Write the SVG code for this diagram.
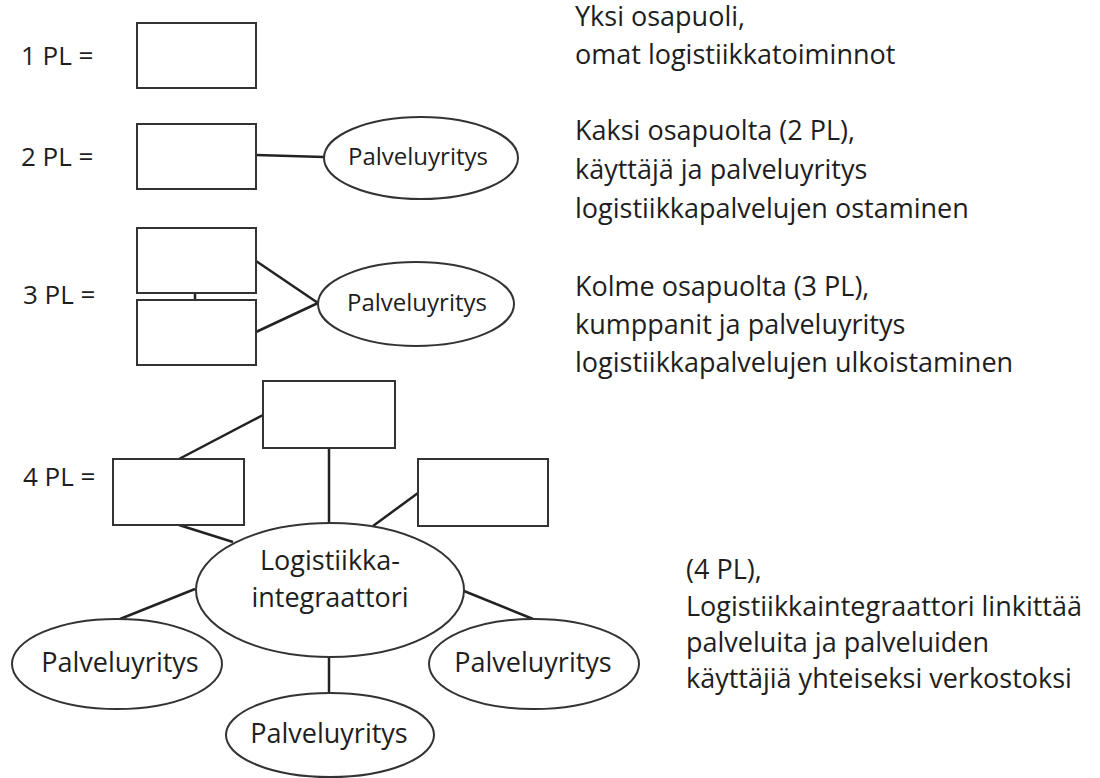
<svg xmlns="http://www.w3.org/2000/svg" width="1100" height="778" viewBox="0 0 1100 778">
<style>
  .bg{fill:#ffffff}
  .box{fill:#ffffff;stroke:#333333;stroke-width:2}
  .ell{fill:#ffffff;stroke:#333333;stroke-width:2}
  .con{stroke:#222222;stroke-width:2.5;fill:none}
  text{font-family:"Open Sans","Noto Sans","Liberation Sans",sans-serif;fill:#1e1e1e}
  .lbl{font-size:26px}
  .desc{font-size:27px}
  .s{font-size:24px;text-anchor:middle}
  .m{font-size:27px;text-anchor:middle}
</style>
<rect class="bg" x="0" y="0" width="1100" height="778"/>

<g id="connectors">
  <line class="con" x1="256" y1="155" x2="324" y2="157"/>
  <line class="con" x1="256" y1="261" x2="318" y2="303"/>
  <line class="con" x1="256" y1="332" x2="318" y2="303"/>
  <line class="con" x1="195" y1="293" x2="195" y2="300"/>
  <line class="con" x1="263" y1="415" x2="179" y2="459"/>
  <line class="con" x1="179" y1="525" x2="233" y2="542"/>
  <line class="con" x1="329" y1="448" x2="329" y2="523"/>
  <line class="con" x1="418" y1="493" x2="373" y2="526"/>
  <line class="con" x1="195" y1="589" x2="120" y2="619"/>
  <line class="con" x1="464" y1="591" x2="533" y2="619"/>
  <line class="con" x1="329" y1="657" x2="329" y2="693"/>
</g>

<g id="labels">
  <text class="lbl" x="21" y="65">1 PL =</text>
  <text class="lbl" x="21" y="166">2 PL =</text>
  <text class="lbl" x="23" y="304">3 PL =</text>
  <text class="lbl" x="23" y="486">4 PL =</text>
</g>

<g id="pl1-box"><rect class="box" x="137" y="23" width="119" height="65"/></g>
<g id="pl2-box"><rect class="box" x="137" y="124" width="119" height="65"/></g>
<g id="pl2-service">
  <ellipse class="ell" cx="421" cy="158" rx="97" ry="41"/>
  <text class="s" x="418" y="165">Palveluyritys</text>
</g>
<g id="pl3-box-a"><rect class="box" x="137" y="228" width="119" height="65"/></g>
<g id="pl3-box-b"><rect class="box" x="137" y="300" width="119" height="65"/></g>
<g id="pl3-service">
  <ellipse class="ell" cx="416" cy="304" rx="98" ry="42"/>
  <text class="s" x="417" y="311">Palveluyritys</text>
</g>

<g id="pl4-box-top"><rect class="box" x="263" y="381" width="132" height="67"/></g>
<g id="pl4-box-left"><rect class="box" x="113" y="459" width="131" height="66"/></g>
<g id="pl4-box-right"><rect class="box" x="418" y="459" width="130" height="67"/></g>
<g id="integrator">
  <ellipse class="ell" cx="330" cy="590" rx="134" ry="67"/>
  <text class="m" x="330" y="570">Logistiikka-</text>
  <text class="m" x="330" y="607">integraattori</text>
</g>
<g id="service-left">
  <ellipse class="ell" cx="117" cy="664" rx="105" ry="45"/>
  <text class="m" x="120" y="672">Palveluyritys</text>
</g>
<g id="service-right">
  <ellipse class="ell" cx="534" cy="664" rx="105" ry="45"/>
  <text class="m" x="533" y="672">Palveluyritys</text>
</g>
<g id="service-bottom">
  <ellipse class="ell" cx="330" cy="735" rx="104" ry="42"/>
  <text class="m" x="329" y="743">Palveluyritys</text>
</g>

<g id="descriptions">
  <text class="desc" x="575" y="26">Yksi osapuoli,</text>
  <text class="desc" x="575" y="64">omat logistiikkatoiminnot</text>
  <text class="desc" x="575" y="140">Kaksi osapuolta (2 PL),</text>
  <text class="desc" x="575" y="179">käyttäjä ja palveluyritys</text>
  <text class="desc" x="575" y="218">logistiikkapalvelujen ostaminen</text>
  <text class="desc" x="575" y="296">Kolme osapuolta (3 PL),</text>
  <text class="desc" x="575" y="334">kumppanit ja palveluyritys</text>
  <text class="desc" x="575" y="372">logistiikkapalvelujen ulkoistaminen</text>
  <text class="desc" x="686" y="579">(4 PL),</text>
  <text class="desc" x="686" y="616">Logistiikkaintegraattori linkittää</text>
  <text class="desc" x="686" y="652">palveluita ja palveluiden</text>
  <text class="desc" x="686" y="688">käyttäjiä yhteiseksi verkostoksi</text>
</g>
</svg>
